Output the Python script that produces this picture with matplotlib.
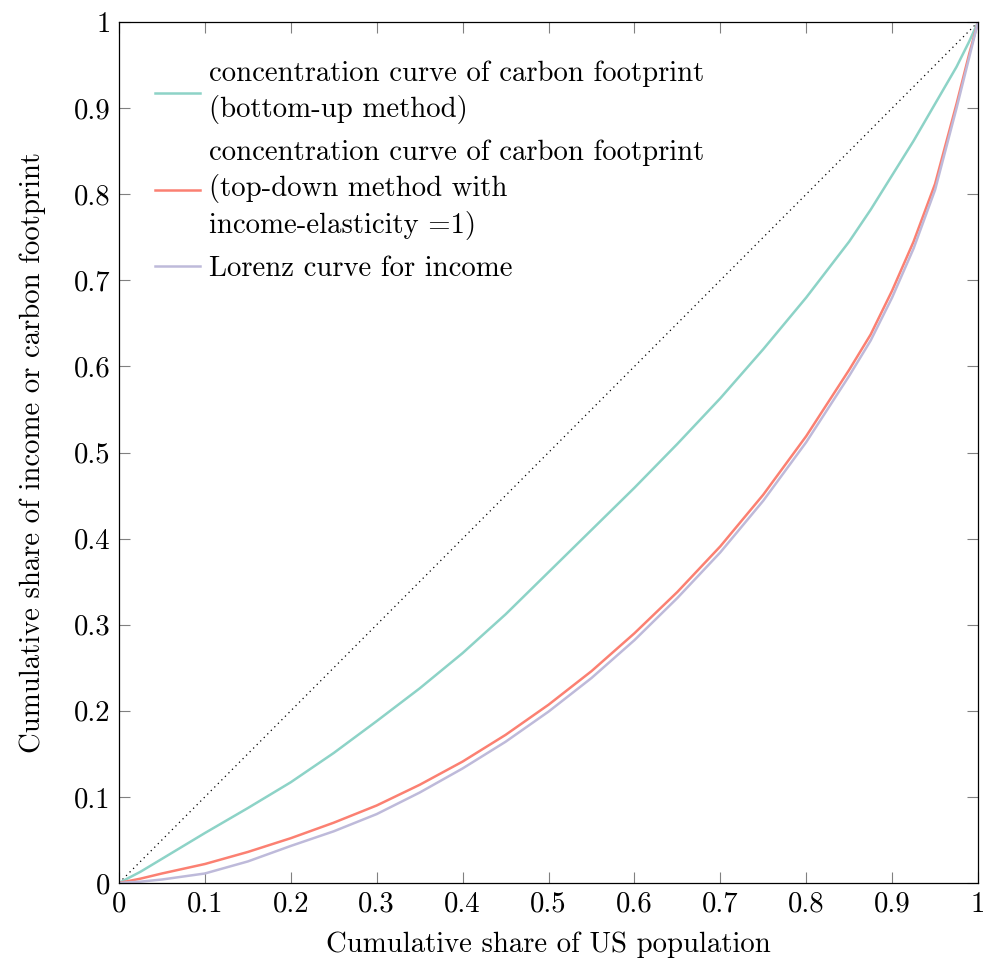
import matplotlib
matplotlib.use("Agg")
import matplotlib.pyplot as plt
from matplotlib.ticker import FuncFormatter

# cumulative share of population
pop = [0, 0.025, 0.05, 0.1, 0.15, 0.2, 0.25, 0.3, 0.35, 0.4, 0.45, 0.5,
       0.55, 0.6, 0.65, 0.7, 0.75, 0.8, 0.85, 0.875, 0.9, 0.925, 0.95, 0.975, 0.99, 1]

# concentration curve, bottom-up
bottom_up = [0, 0.013, 0.028, 0.058, 0.087, 0.117, 0.151, 0.188, 0.226, 0.267, 0.312, 0.361,
             0.41, 0.459, 0.51, 0.563, 0.62, 0.68, 0.745, 0.782, 0.822, 0.862, 0.905, 0.948, 0.978, 1]

# concentration curve, top-down (elasticity 1)
top_down = [0, 0.005, 0.011, 0.022, 0.036, 0.052, 0.07, 0.09, 0.114, 0.141, 0.172, 0.207,
            0.246, 0.29, 0.338, 0.391, 0.451, 0.519, 0.596, 0.637, 0.688, 0.745, 0.812, 0.905, 0.964, 1]

# Lorenz curve for income
lorenz = [0, 0.0015, 0.004, 0.011, 0.025, 0.043, 0.06, 0.08, 0.105, 0.133, 0.164, 0.199,
          0.238, 0.282, 0.331, 0.384, 0.444, 0.512, 0.589, 0.63, 0.68, 0.737, 0.805, 0.9, 0.96, 1]

ticks = [0, 0.1, 0.2, 0.3, 0.4, 0.5, 0.6, 0.7, 0.8, 0.9, 1]

plt.rcParams["font.family"] = ["cmr10", "DejaVu Serif"]
plt.rcParams["axes.formatter.use_mathtext"] = True
plt.rcParams["mathtext.fontset"] = "cm"

fs = 20.7

fig = plt.figure(figsize=(9.86, 9.59), dpi=100)
ax = fig.add_axes([0.1207, 0.0793, 0.8712, 0.8977])

ax.plot([0, 1], [0, 1], color="black", linestyle=(0, (1, 3)), linewidth=0.9)
ax.plot(pop, bottom_up, color="#8dd3c7", linewidth=1.8,
        label="concentration curve of carbon footprint\n(bottom-up method)")
ax.plot(pop, top_down, color="#fb8072", linewidth=1.8,
        label="concentration curve of carbon footprint\n(top-down method with\nincome-elasticity =1)")
ax.plot(pop, lorenz, color="#bebada", linewidth=1.8,
        label="Lorenz curve for income")

ax.set_xlim(0, 1)
ax.set_ylim(0, 1)
ax.set_xticks(ticks)
ax.set_yticks(ticks)
fmt = FuncFormatter(lambda v, p: "%g" % v)
ax.xaxis.set_major_formatter(fmt)
ax.yaxis.set_major_formatter(fmt)
ax.tick_params(direction="in", length=8, width=0.8, color="#808080",
               top=True, right=True, labelsize=fs, pad=6)
for s in ax.spines.values():
    s.set_linewidth(0.9)

ax.set_xlabel("Cumulative share of US population", fontsize=fs, labelpad=10)
ax.set_ylabel("Cumulative share of income or carbon footprint", fontsize=fs, labelpad=20)

leg = ax.legend(loc="upper left", bbox_to_anchor=(0.012, 0.985), frameon=False,
                fontsize=fs, handlelength=1.57, handletextpad=0.3, labelspacing=0.55)
for t in leg.get_texts():
    t.set_linespacing(1.35)

fig.savefig("out.png", dpi=100)
